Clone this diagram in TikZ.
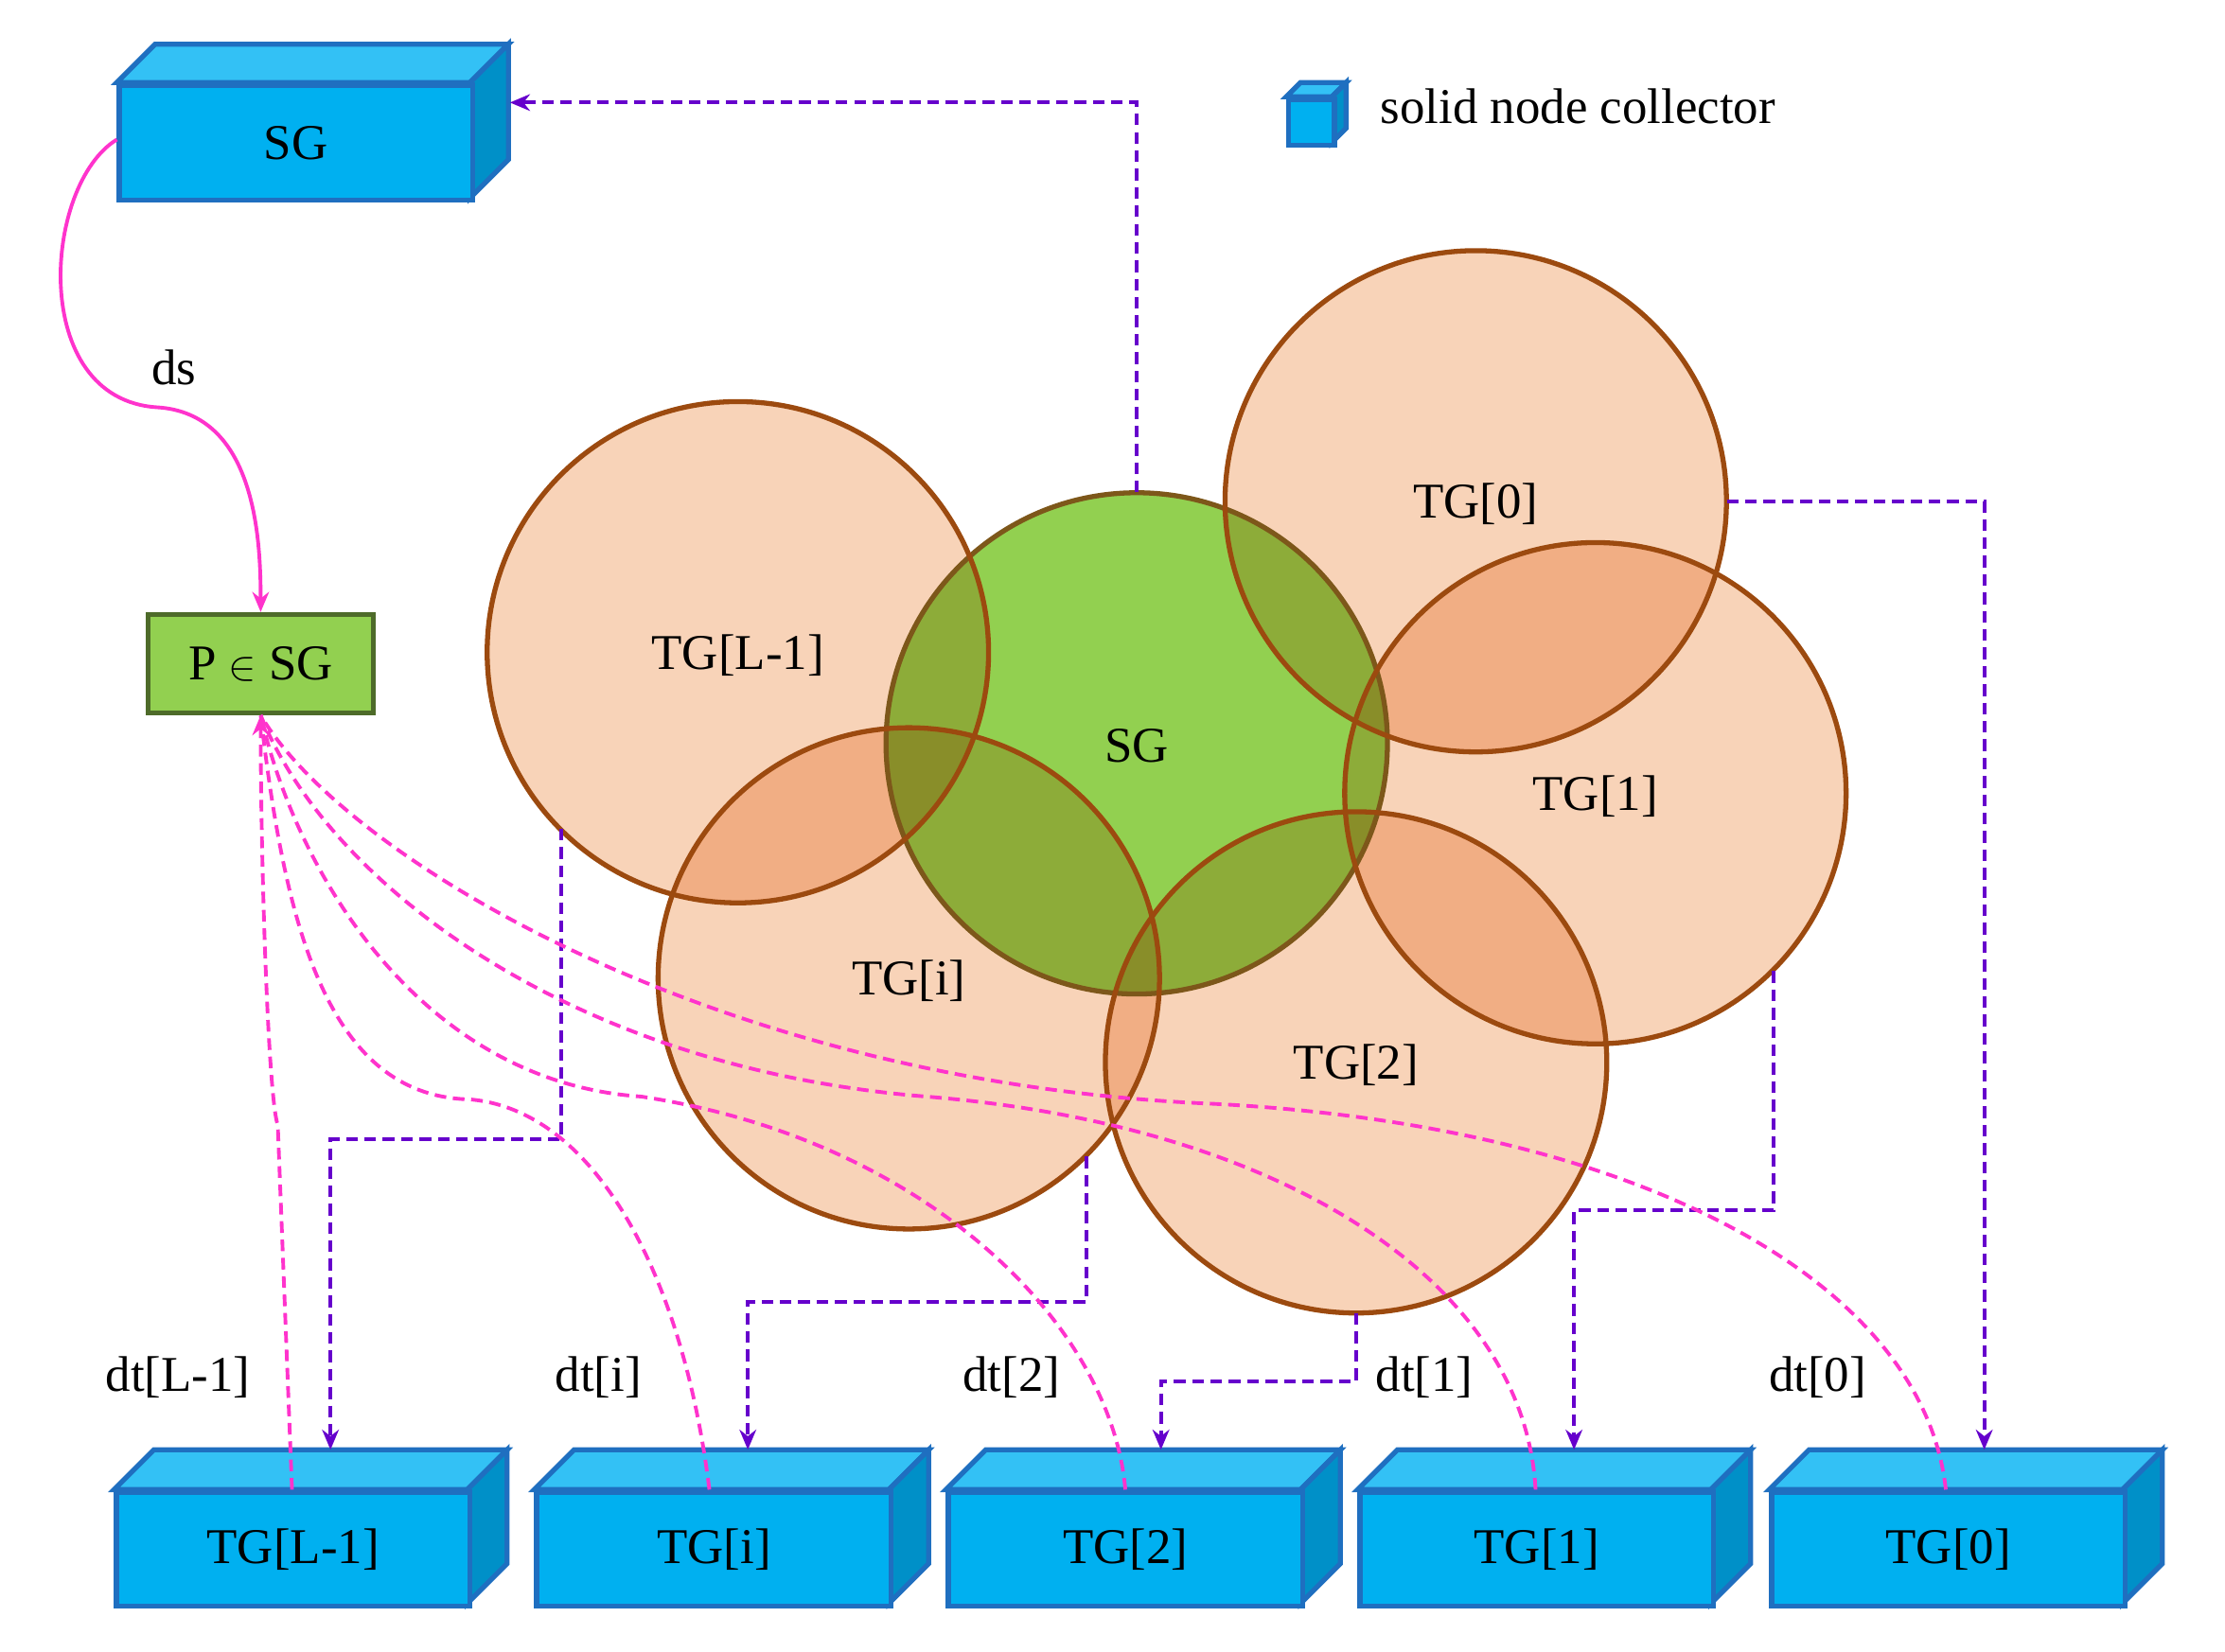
\documentclass[tikz,border=0pt]{standalone}
\usepackage{fontspec}
\setmainfont{Liberation Serif}
\usetikzlibrary{arrows.meta}
\definecolor{cubef}{HTML}{00B0F0}
\definecolor{cubet}{HTML}{33C1F5}
\definecolor{cubes}{HTML}{0090C8}
\definecolor{cubeb}{HTML}{1F6FC0}
\definecolor{peach}{HTML}{F8D3B8}
\definecolor{brn}{HTML}{9C4A0F}
\definecolor{grn}{HTML}{92D050}
\definecolor{dgrn}{HTML}{4E6B2A}
\definecolor{purp}{HTML}{6600CC}
\definecolor{pink}{HTML}{FF33CC}
\tikzset{
  txt/.style={font=\fontsize{30}{34}\selectfont},
  cfront/.style={draw=cubeb,line width=3pt,fill=cubef},
  ctop/.style={draw=cubeb,line width=3pt,fill=cubet},
  cside/.style={draw=cubeb,line width=3pt,fill=cubes},
  tgc/.style={circle,minimum size=352*0.03cm,inner sep=0},
  pa/.style={draw=purp,line width=2.2pt,dash pattern=on 7pt off 4pt,-{Stealth[length=12pt,width=10pt]}},
  pk/.style={draw=pink,line width=2.2pt,dash pattern=on 7pt off 4pt},
}
\newcommand{\mycube}[6]{% x1,y1,x2,y2,d,name
  \filldraw[ctop] (#1,#2) -- (#1+#5,#2-#5) -- (#3+#5,#2-#5) -- (#3,#2) -- cycle;
  \filldraw[cside] (#3,#2) -- (#3+#5,#2-#5) -- (#3+#5,#4-#5) -- (#3,#4) -- cycle;
  \node[cfront,minimum width={(#3-#1)*0.03cm},minimum height={(#4-#2)*0.03cm},inner sep=0,anchor=north west] (#6) at (#1,#2) {};
}
\begin{document}
\begin{tikzpicture}[x=0.03cm,y=-0.03cm]
\useasboundingbox (0,0) rectangle (1562,1160);
% cubes
\mycube{82}{58}{330}{139}{27}{sgbox}
\node[txt] at (sgbox) {SG};
\mycube{903}{68}{935}{100}{10}{leg}
\node[txt,anchor=west] (legt) at (965,75) {solid node collector};
\mycube{80}{1046}{328}{1126}{28}{b4}
\mycube{375}{1046}{624}{1126}{28}{b3}
\mycube{664}{1046}{913}{1126}{28}{b2}
\mycube{953}{1046}{1201}{1126}{28}{b1}
\mycube{1242}{1046}{1490}{1126}{28}{b0}
\node[txt] at (b4) {TG[L-1]};
\node[txt] at (b3) {TG[i]};
\node[txt] at (b2) {TG[2]};
\node[txt] at (b1) {TG[1]};
\node[txt] at (b0) {TG[0]};
% P box
\node[draw=dgrn,line width=3pt,fill=grn,minimum width=158*0.03cm,minimum height=69*0.03cm,txt] (P) at (183,466) {P $\in$ SG};
% circles: fills with multiply, then outlines
\node[tgc] (cL) at (518,458) {};
\node[tgc] (cS) at (798,522) {};
\node[tgc] (c0) at (1036,352) {};
\node[tgc] (c1) at (1120,557) {};
\node[tgc] (ci) at (638,687) {};
\node[tgc] (c2) at (952,746) {};
\begin{scope}[blend group=multiply]
\fill[grn] (cS) circle[radius=176];
\foreach \c in {cL,c0,c1,ci,c2} \fill[peach] (\c) circle[radius=176];
\end{scope}
\draw[line width=3pt,draw=brn!60!dgrn] (cS) circle[radius=176];
\foreach \c in {cL,c0,c1,ci,c2} \draw[line width=3pt,brn] (\c) circle[radius=176];
\node[txt] at (518,460) {TG[L-1]};
\node[txt] at (798,524) {SG};
\node[txt] at (1036,354) {TG[0]};
\node[txt] at (1120,559) {TG[1]};
\node[txt] at (638,689) {TG[i]};
\node[txt] at (952,748) {TG[2]};
% purple arrows
\draw[pa] (cS.north) |- (358,72);
\draw[pa] (c0.east) -| (1393,1018);
\draw[pa] (1245,682) -- (1245,850) -| (1105,1018);
\draw[pa] (c2.south) -- (952,970) -| (815,1018);
\draw[pa] (763,812) -- (763,914) -| (525,1018);
\draw[pa] (394,582) -- (394,800) -| (232,1018);
% pink
\draw[draw=pink,line width=2.2pt,-{Stealth[length=12pt,width=10pt]}] (82,98) .. controls (30,130) and (20,280) .. (110,286) .. controls (180,290) and (183,380) .. (P.north);
\node[txt] at (122,258) {ds};
\draw[pk,-{Stealth[length=12pt,width=10pt]}] (205,1046) -- (195,790) .. controls (188,770) and (183,600) .. (P.south);
\draw[pk] (498,1046) .. controls (480,900) and (420,780) .. (330,772) .. controls (230,770) and (200,650) .. (P.south);
\draw[pk] (790,1046) .. controls (780,930) and (650,800) .. (450,770) .. controls (300,760) and (210,620) .. (P.south);
\draw[pk] (1078,1046) .. controls (1070,900) and (900,790) .. (650,770) .. controls (400,750) and (230,620) .. (P.south);
\draw[pk] (1366,1046) .. controls (1350,900) and (1150,790) .. (850,775) .. controls (500,760) and (240,600) .. (P.south);
\node[txt] at (125,967) {dt[L-1]};
\node[txt] at (420,967) {dt[i]};
\node[txt] at (710,967) {dt[2]};
\node[txt] at (1000,967) {dt[1]};
\node[txt] at (1276,967) {dt[0]};
\end{tikzpicture}
\end{document}
